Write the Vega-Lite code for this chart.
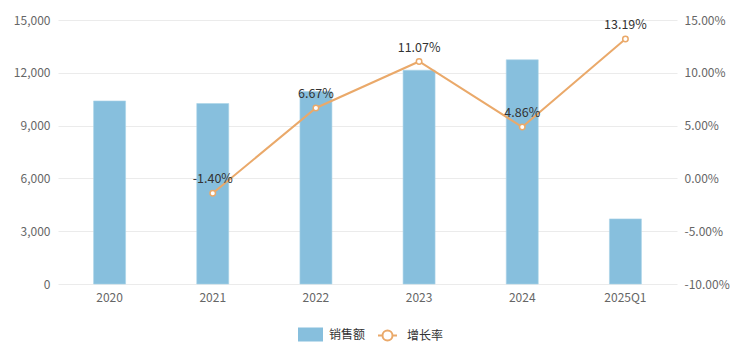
{
  "$schema": "https://vega.github.io/schema/vega-lite/v6.json",
  "width": 619,
  "height": 264,
  "autosize": {"type": "none"},
  "padding": {"left": 58, "top": 20, "right": 71, "bottom": 78},
  "background": "white",
  "config": {
    "view": {"stroke": null},
    "font": "Noto Sans CJK SC",
    "locale": {"number": {"decimal": ".", "thousands": ",", "grouping": [3], "currency": ["", ""], "minus": "-"}},
    "axis": {"labelFont": "Noto Sans CJK SC", "labelFontSize": 12, "labelColor": "#666"},
    "legend": {"labelFont": "Noto Sans CJK SC", "labelFontSize": 12, "labelColor": "#333"}
  },
  "data": {
    "values": [
      {"year": "2020", "sales": 10400, "rate": null},
      {"year": "2021", "sales": 10254, "rate": -0.014},
      {"year": "2022", "sales": 10938, "rate": 0.0667},
      {"year": "2023", "sales": 12149, "rate": 0.1107},
      {"year": "2024", "sales": 12739, "rate": 0.0486},
      {"year": "2025Q1", "sales": 3700, "rate": 0.1319}
    ]
  },
  "encoding": {
    "x": {
      "field": "year",
      "type": "ordinal",
      "sort": null,
      "scale": {"paddingInner": 0.69, "paddingOuter": 0.345},
      "axis": {"title": null, "labelAngle": 0, "ticks": false, "domain": false, "labelPadding": 8}
    }
  },
  "layer": [
    {
      "mark": {"type": "bar", "stroke": "#a9d3e8", "strokeWidth": 0.6},
      "encoding": {
        "y": {
          "field": "sales",
          "type": "quantitative",
          "scale": {"domain": [0, 15000]},
          "axis": {
            "title": null,
            "values": [0, 3000, 6000, 9000, 12000, 15000],
            "format": ",d",
            "domain": false,
            "ticks": false,
            "labelPadding": 8,
            "gridColor": "#ebebeb"
          }
        },
        "fill": {
          "datum": "销售额",
          "type": "nominal",
          "scale": {"domain": ["销售额"], "range": ["#87bfdd"]},
          "legend": {
            "title": null,
            "orient": "none",
            "legendX": 240,
            "legendY": 302,
            "symbolType": "M-1,-0.56H1V0.56H-1Z",
            "symbolSize": 625,
            "symbolStrokeWidth": 0,
            "labelOffset": 6
          }
        }
      }
    },
    {
      "transform": [{"filter": "datum.rate != null"}],
      "encoding": {
        "y": {
          "field": "rate",
          "type": "quantitative",
          "scale": {"domain": [-0.1, 0.15]},
          "axis": {
            "title": null,
            "orient": "right",
            "values": [-0.1, -0.05, 0, 0.05, 0.1, 0.15],
            "format": ".2%",
            "grid": false,
            "domain": false,
            "ticks": false,
            "labelPadding": 7
          }
        }
      },
      "layer": [
        {
          "mark": {
            "type": "line",
            "strokeWidth": 2,
            "point": {"filled": false, "fill": "white", "size": 30, "strokeWidth": 1.5}
          },
          "encoding": {
            "stroke": {
              "datum": "增长率",
              "type": "nominal",
              "scale": {"domain": ["增长率"], "range": ["#eaa96a"]},
              "legend": {
                "title": null,
                "orient": "none",
                "legendX": 316,
                "legendY": 302,
                "symbolType": "M-0.76,0H-0.4M0.4,0H0.76M0.4,0A0.4,0.4,0,1,1,-0.4,0A0.4,0.4,0,1,1,0.4,0",
                "symbolSize": 625,
                "symbolFillColor": "#ffffff",
                "symbolStrokeWidth": 2,
                "labelOffset": 6
              }
            }
          }
        },
        {
          "mark": {"type": "text", "dy": -14, "fontSize": 12.5, "color": "#333", "font": "Noto Sans CJK SC"},
          "encoding": {"text": {"field": "rate", "type": "quantitative", "format": ".2%"}}
        }
      ]
    }
  ],
  "resolve": {"scale": {"y": "independent"}}
}
